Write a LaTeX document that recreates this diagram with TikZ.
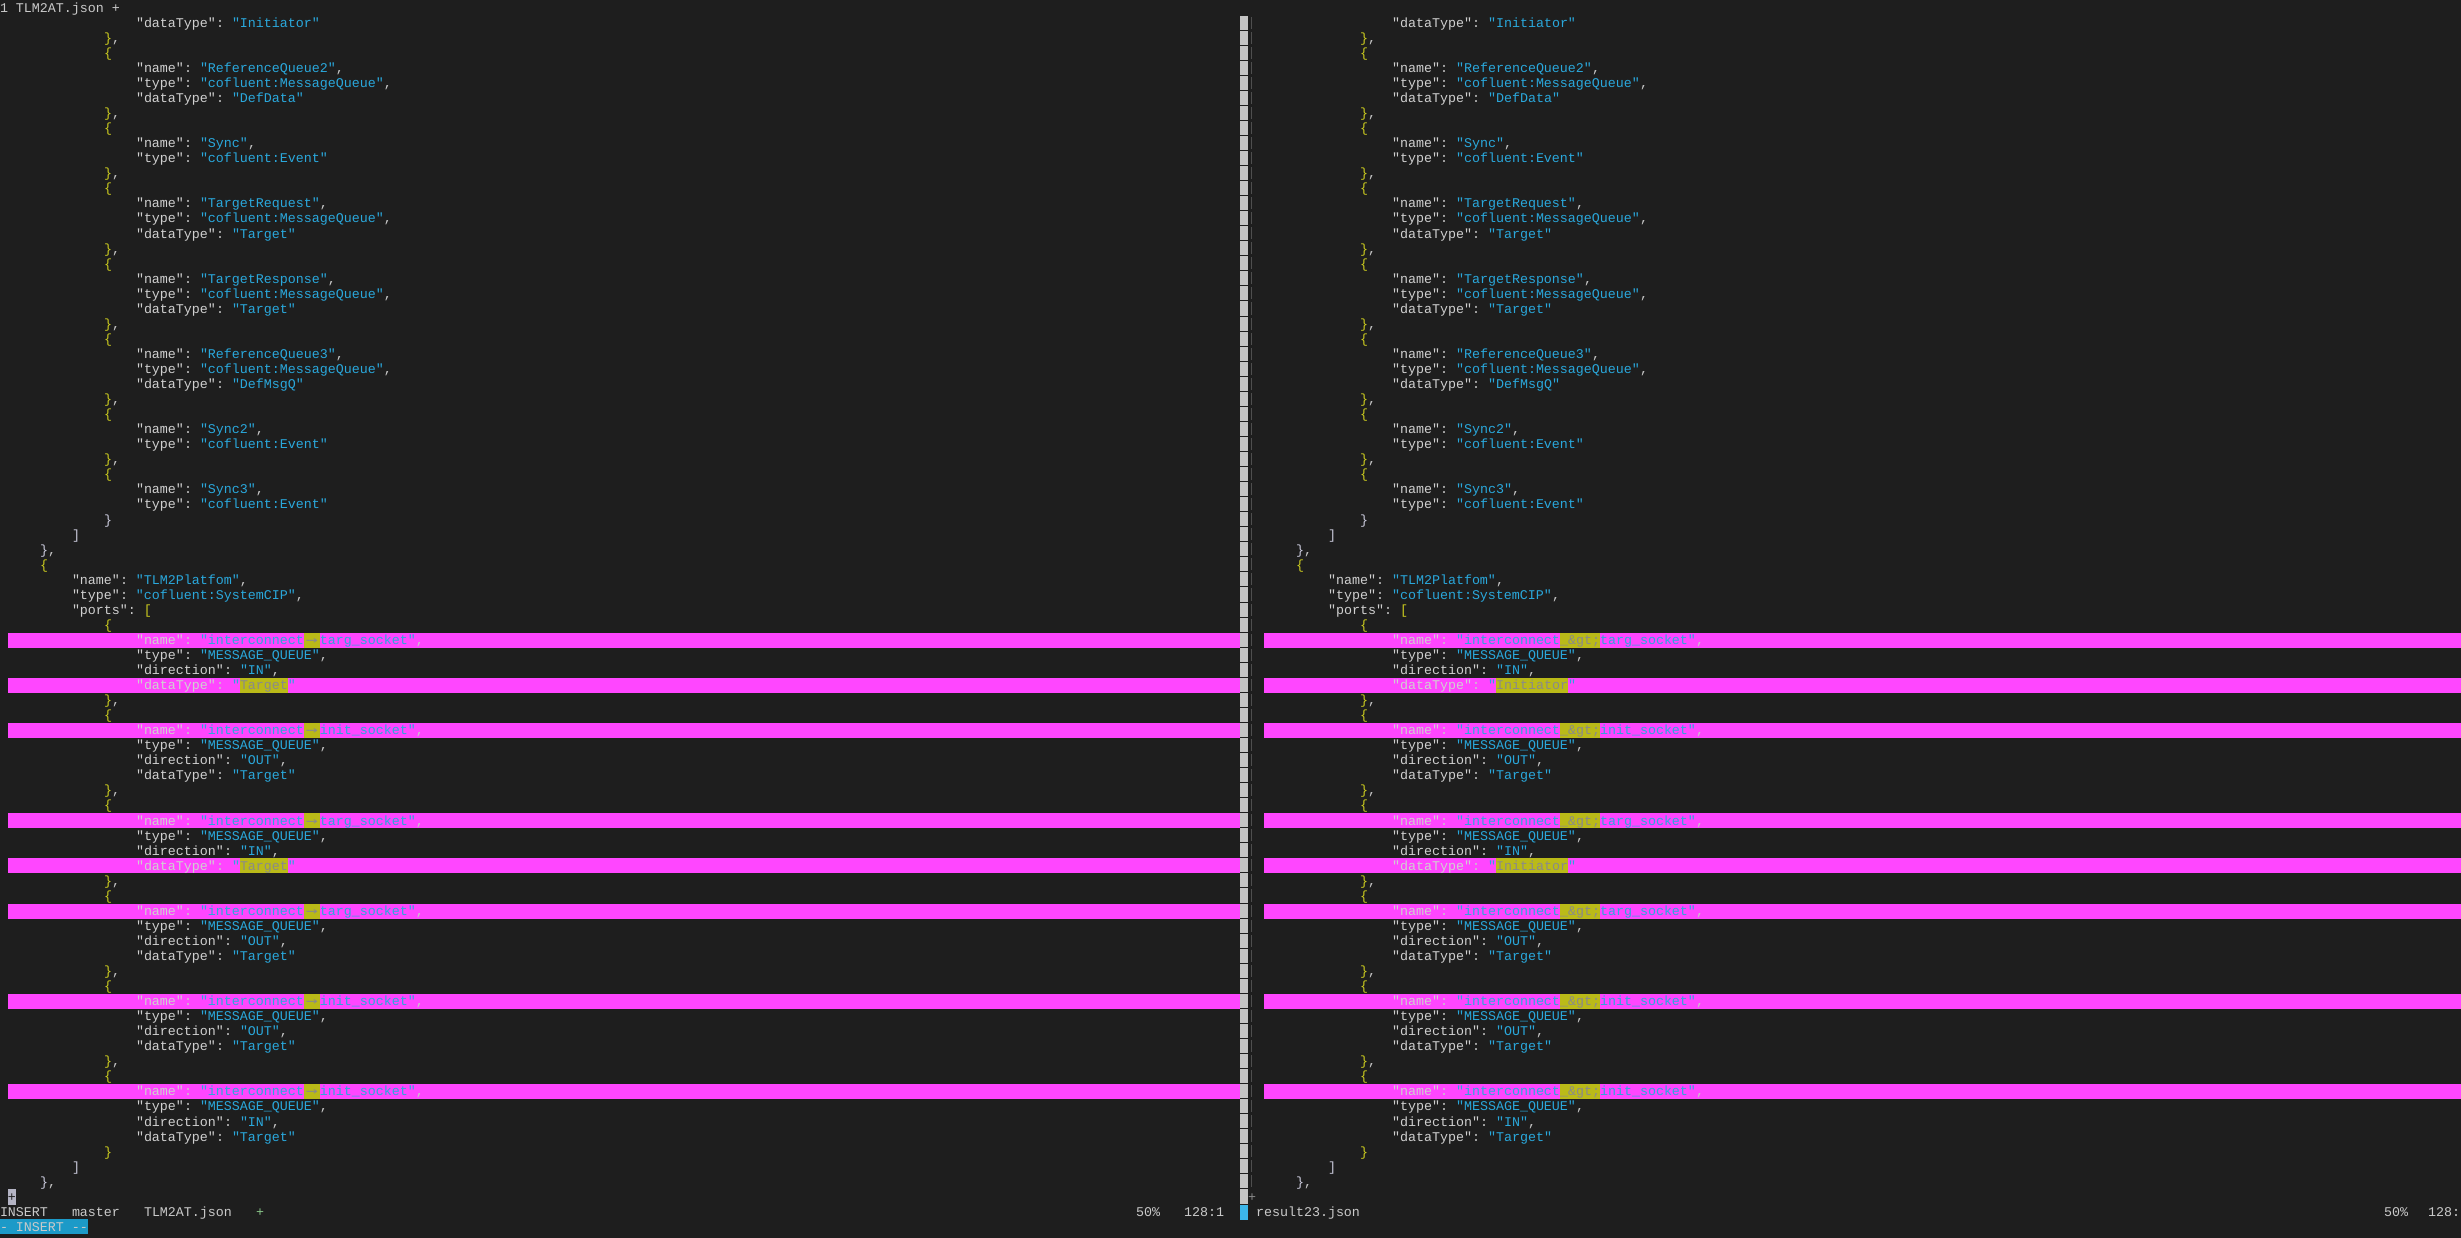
\documentclass[tikz,border=0pt]{standalone}
\usepackage{fontspec}
\usepackage{graphicx}
\newfontfamily\codefont{Liberation Mono}
\newfontfamily\arrowfont{DejaVu Sans Mono}
\definecolor{bgc}{HTML}{1E1E1E}
\definecolor{keyc}{HTML}{D0D0D0}
\definecolor{strc}{HTML}{2AA8DC}
\definecolor{punc}{HTML}{C8C8C8}
\definecolor{brY}{HTML}{CACA1E}
\definecolor{brW}{HTML}{C8C8DA}
\definecolor{magc}{HTML}{FF46FF}
\definecolor{olivec}{HTML}{BABA18}
\definecolor{hlt}{HTML}{8A8A8A}
\definecolor{sepc}{HTML}{C4C4C4}
\definecolor{foldc}{HTML}{4E4E4E}
\definecolor{cyanbox}{HTML}{1C9AC8}
\definecolor{cyansep}{HTML}{3CB6EA}
\definecolor{greenc}{HTML}{88C488}
\definecolor{statc}{HTML}{CACACA}
\definecolor{cursc}{HTML}{B4B4C4}
\newcommand\cfont{\fontsize{13.331pt}{15.05pt}\codefont}
\newcommand\SP{\kern8pt\relax}
\newcommand\Kk[1]{\textcolor{keyc}{"#1"}\textcolor{punc}{:}\SP}
\newcommand\Vv[1]{\textcolor{strc}{"#1"}}
\newcommand\Cm{\textcolor{punc}{,}}
\newcommand\OB{\textcolor{brY}{\{}}
\newcommand\CB{\textcolor{brY}{\}}\Cm}
\tikzset{
  codetext/.style={inner sep=0pt, outer sep=0pt, anchor=base west, font=\cfont},
  diffchg/.style={fill=magc},
  difftxt/.style={fill=olivec}
}
% code line: row, column, content
\newcommand\cl[3]{\node[codetext] (\paneN-#1) at ({\paneX+8*#2},{-(#1*15.05+12.3)}) {#3};}
\newcommand\hlrow[1]{\fill[diffchg] (\paneX,{-(#1*15.05+0.5)}) rectangle (\paneE,{-((#1+1)*15.05+0.5)});}
\newcommand\hlcell[3]{\fill[difftxt] ({\paneX+8*#2},{-(#1*15.05+0.5)}) rectangle ({\paneX+8*#3},{-((#1+1)*15.05+0.5)});}
\newcommand\panebody{%
  \foreach \rr in {42,48,54,60,66,72} {\hlrow{\rr}\hlcell{\rr}{37}{\NHE}}
  \foreach \rr in {45,57} {\hlrow{\rr}\hlcell{\rr}{29}{\DHE}}
  \cl{1}{16}{\Kk{dataType}\Vv{Initiator}}
  \cl{2}{12}{\CB}
  \cl{3}{12}{\OB}
  \cl{4}{16}{\Kk{name}\Vv{ReferenceQueue2}\Cm}
  \cl{5}{16}{\Kk{type}\Vv{cofluent:MessageQueue}\Cm}
  \cl{6}{16}{\Kk{dataType}\Vv{DefData}}
  \cl{7}{12}{\CB}
  \cl{8}{12}{\OB}
  \cl{9}{16}{\Kk{name}\Vv{Sync}\Cm}
  \cl{10}{16}{\Kk{type}\Vv{cofluent:Event}}
  \cl{11}{12}{\CB}
  \cl{12}{12}{\OB}
  \cl{13}{16}{\Kk{name}\Vv{TargetRequest}\Cm}
  \cl{14}{16}{\Kk{type}\Vv{cofluent:MessageQueue}\Cm}
  \cl{15}{16}{\Kk{dataType}\Vv{Target}}
  \cl{16}{12}{\CB}
  \cl{17}{12}{\OB}
  \cl{18}{16}{\Kk{name}\Vv{TargetResponse}\Cm}
  \cl{19}{16}{\Kk{type}\Vv{cofluent:MessageQueue}\Cm}
  \cl{20}{16}{\Kk{dataType}\Vv{Target}}
  \cl{21}{12}{\CB}
  \cl{22}{12}{\OB}
  \cl{23}{16}{\Kk{name}\Vv{ReferenceQueue3}\Cm}
  \cl{24}{16}{\Kk{type}\Vv{cofluent:MessageQueue}\Cm}
  \cl{25}{16}{\Kk{dataType}\Vv{DefMsgQ}}
  \cl{26}{12}{\CB}
  \cl{27}{12}{\OB}
  \cl{28}{16}{\Kk{name}\Vv{Sync2}\Cm}
  \cl{29}{16}{\Kk{type}\Vv{cofluent:Event}}
  \cl{30}{12}{\CB}
  \cl{31}{12}{\OB}
  \cl{32}{16}{\Kk{name}\Vv{Sync3}\Cm}
  \cl{33}{16}{\Kk{type}\Vv{cofluent:Event}}
  \cl{34}{12}{\textcolor{brW}{\}}}
  \cl{35}{8}{\textcolor{brW}{]}}
  \cl{36}{4}{\textcolor{brW}{\}}\Cm}
  \cl{37}{4}{\OB}
  \cl{38}{8}{\Kk{name}\Vv{TLM2Platfom}\Cm}
  \cl{39}{8}{\Kk{type}\Vv{cofluent:SystemCIP}\Cm}
  \cl{40}{8}{\Kk{ports}\textcolor{brY}{[}}
  \cl{41}{12}{\OB}
  \cl{42}{16}{\Kk{name}\textcolor{strc}{"interconnect}\ARW\textcolor{strc}{targ\_socket"}\Cm}
  \cl{43}{16}{\Kk{type}\Vv{MESSAGE\_QUEUE}\Cm}
  \cl{44}{16}{\Kk{direction}\Vv{IN}\Cm}
  \cl{45}{16}{\Kk{dataType}\textcolor{strc}{"}\textcolor{hlt}{\DTV}\textcolor{strc}{"}}
  \cl{46}{12}{\CB}
  \cl{47}{12}{\OB}
  \cl{48}{16}{\Kk{name}\textcolor{strc}{"interconnect}\ARW\textcolor{strc}{init\_socket"}\Cm}
  \cl{49}{16}{\Kk{type}\Vv{MESSAGE\_QUEUE}\Cm}
  \cl{50}{16}{\Kk{direction}\Vv{OUT}\Cm}
  \cl{51}{16}{\Kk{dataType}\Vv{Target}}
  \cl{52}{12}{\CB}
  \cl{53}{12}{\OB}
  \cl{54}{16}{\Kk{name}\textcolor{strc}{"interconnect}\ARW\textcolor{strc}{targ\_socket"}\Cm}
  \cl{55}{16}{\Kk{type}\Vv{MESSAGE\_QUEUE}\Cm}
  \cl{56}{16}{\Kk{direction}\Vv{IN}\Cm}
  \cl{57}{16}{\Kk{dataType}\textcolor{strc}{"}\textcolor{hlt}{\DTV}\textcolor{strc}{"}}
  \cl{58}{12}{\CB}
  \cl{59}{12}{\OB}
  \cl{60}{16}{\Kk{name}\textcolor{strc}{"interconnect}\ARW\textcolor{strc}{targ\_socket"}\Cm}
  \cl{61}{16}{\Kk{type}\Vv{MESSAGE\_QUEUE}\Cm}
  \cl{62}{16}{\Kk{direction}\Vv{OUT}\Cm}
  \cl{63}{16}{\Kk{dataType}\Vv{Target}}
  \cl{64}{12}{\CB}
  \cl{65}{12}{\OB}
  \cl{66}{16}{\Kk{name}\textcolor{strc}{"interconnect}\ARW\textcolor{strc}{init\_socket"}\Cm}
  \cl{67}{16}{\Kk{type}\Vv{MESSAGE\_QUEUE}\Cm}
  \cl{68}{16}{\Kk{direction}\Vv{OUT}\Cm}
  \cl{69}{16}{\Kk{dataType}\Vv{Target}}
  \cl{70}{12}{\CB}
  \cl{71}{12}{\OB}
  \cl{72}{16}{\Kk{name}\textcolor{strc}{"interconnect}\ARW\textcolor{strc}{init\_socket"}\Cm}
  \cl{73}{16}{\Kk{type}\Vv{MESSAGE\_QUEUE}\Cm}
  \cl{74}{16}{\Kk{direction}\Vv{IN}\Cm}
  \cl{75}{16}{\Kk{dataType}\Vv{Target}}
  \cl{76}{12}{\textcolor{brY}{\}}}
  \cl{77}{8}{\textcolor{brW}{]}}
  \cl{78}{4}{\textcolor{brW}{\}}\Cm}
}
\begin{document}
\begin{tikzpicture}[x=1pt,y=1pt]
\useasboundingbox (0,0) rectangle (2461,-1238);
\clip (0,0) rectangle (2461,-1238);
\fill[bgc] (0,0) rectangle (2461,-1238);
% separator and right fold column
\foreach \rr in {1,...,79} {
  \fill[sepc] (1240,{-(\rr*15.05)-0.5}) rectangle (1248,{-((\rr+1)*15.05)+0.5});
}
\foreach \rr in {1,...,78} {
  \fill[foldc] (1251,{-(\rr*15.05)-1.5}) rectangle (1252.2,{-((\rr+1)*15.05)+1.5});
}
% left pane
\def\paneX{8}\def\paneE{1240}\def\paneN{L}
\def\NHE{39}\def\DHE{35}
\def\ARW{\hbox to 16pt{\hss\textcolor{hlt}{\arrowfont\scalebox{1.5}[1]{→}}\hss}}
\def\DTV{Target}
\panebody
% right pane
\def\paneX{1264}\def\paneE{2461}\def\paneN{R}
\def\NHE{42}\def\DHE{38}
\def\ARW{\textcolor{hlt}{\_\&gt;}}
\def\DTV{Initiator}
\panebody
% tab line
\def\paneX{0}\def\paneN{T}
\cl{0}{0}{\textcolor{statc}{1\SP TLM2AT.json\SP+}}
% fold lines (row 79)
\fill[cursc] (8,{-(79*15.05+0.5)}) rectangle (16,{-(80*15.05+0.5)});
\node[codetext] (foldL) at (8,{-(79*15.05+12.3)}) {\textcolor{bgc}{+}};
\node[codetext] (foldR) at (1248,{-(79*15.05+12.3)}) {\textcolor{hlt}{+}};
% status lines
\fill[cyansep] (1240,{-(80*15.05+0.5)}) rectangle (1248,{-(81*15.05+0.5)});
\node[codetext] (s1) at (0,{-(80*15.05+12.3)}) {\textcolor{statc}{INSERT}};
\node[codetext] (s2) at (72,{-(80*15.05+12.3)}) {\textcolor{statc}{master}};
\node[codetext] (s3) at (144,{-(80*15.05+12.3)}) {\textcolor{statc}{TLM2AT.json}};
\node[codetext] (s4) at (256,{-(80*15.05+12.3)}) {\textcolor{greenc}{+}};
\node[codetext] (s5) at (1136,{-(80*15.05+12.3)}) {\textcolor{statc}{50\%}};
\node[codetext] (s6) at (1184,{-(80*15.05+12.3)}) {\textcolor{statc}{128:1}};
\node[codetext] (s7) at (1256,{-(80*15.05+12.3)}) {\textcolor{statc}{result23.json}};
\node[codetext] (s8) at (2384,{-(80*15.05+12.3)}) {\textcolor{statc}{50\%}};
\node[codetext] (s9) at (2428,{-(80*15.05+12.3)}) {\textcolor{statc}{128:}};
% mode line
\fill[cyanbox] (0,{-(81*15.05)}) rectangle (88,{-(82*15.05)});
\node[codetext] (mode) at (0,{-(81*15.05+12.3)}) {\textcolor{statc}{-\SP INSERT\SP-{}-}};
\end{tikzpicture}
\end{document}
